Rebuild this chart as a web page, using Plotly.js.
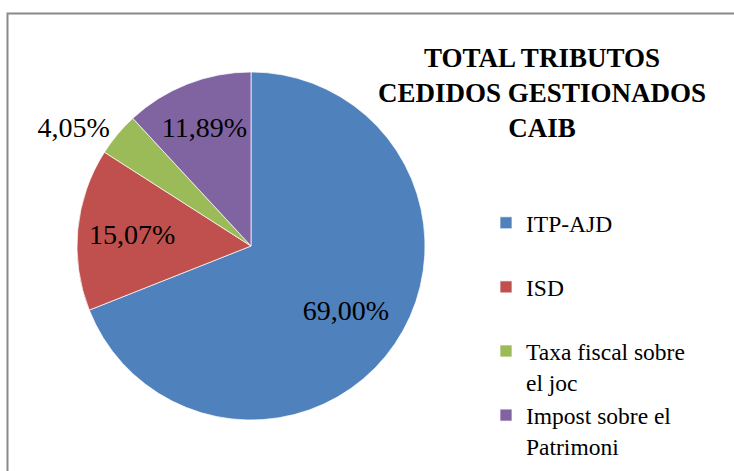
<!DOCTYPE html>
<html>
<head>
<meta charset="utf-8">
<script src="https://cdn.plot.ly/plotly-3.0.1.min.js"></script>
<style>html,body{margin:0;padding:0;background:#fff;}#chart{width:734px;height:471px;}</style>
</head>
<body>
<div id="chart"></div>
<script>
// Data
var categories = ['ITP-AJD', 'ISD', 'Taxa fiscal sobre<br>el joc', 'Impost sobre el<br>Patrimoni'];
var shares = [69.00, 15.07, 4.05, 11.89];
var sliceColors = ['#4F81BD', '#C0504D', '#9BBB59', '#8064A2'];
var labelPositions = ['inside', 'inside', 'outside', 'inside'];
var titleLines = ['TOTAL TRIBUTOS', 'CEDIDOS GESTIONADOS', 'CAIB'];

// pad single-line legend entries to two lines so all entries share the same height
var legendLabels = categories.map(function (c) {
  return c.indexOf('<br>') >= 0 ? c : c + '<br>&nbsp;';
});

var W = 734, H = 471;
var pieDomain = { x: [77 / W, 425 / W], y: [51 / H, 399 / H] };
var labelFont = { family: '"Liberation Serif", serif', size: 28, color: '#000' };
var fmt = '%{value:.2f}%';

// main pie: slices + labels of the smaller slices
var trace = {
  type: 'pie',
  labels: legendLabels,
  values: shares,
  sort: false,
  direction: 'clockwise',
  rotation: 0,
  marker: { colors: sliceColors, line: { color: 'rgba(255,255,255,0.7)', width: 1 } },
  texttemplate: shares.map(function (v, i) { return i === 0 ? '' : fmt; }),
  textposition: labelPositions.map(function (p, i) { return i === 0 ? 'none' : p; }),
  insidetextorientation: 'horizontal',
  textfont: labelFont,
  hoverinfo: 'none',
  domain: pieDomain
};

// transparent ring overlay carrying the label of the large slice further out
var labelRing = {
  type: 'pie',
  labels: legendLabels,
  values: shares,
  sort: false,
  direction: 'clockwise',
  rotation: 0,
  hole: 0.32,
  showlegend: false,
  marker: { colors: shares.map(function () { return 'rgba(0,0,0,0)'; }), line: { width: 0 } },
  texttemplate: shares.map(function (v, i) { return i === 0 ? fmt : ''; }),
  textposition: labelPositions.map(function (p, i) { return i === 0 ? p : 'none'; }),
  insidetextorientation: 'horizontal',
  textfont: labelFont,
  hoverinfo: 'none',
  domain: pieDomain
};

var layout = {
  width: W,
  height: H,
  margin: { l: 0, r: 0, t: 0, b: 0 },
  paper_bgcolor: '#fff',
  separators: ',.',
  showlegend: true,
  title: {
    text: titleLines.map(function (s) { return '<b>' + s + '</b>'; }).join('<br>'),
    x: 542 / W,
    xanchor: 'center',
    y: 1 - 67 / H,
    yanchor: 'top',
    font: { family: '"Liberation Serif", serif', size: 27, color: '#000' }
  },
  legend: {
    x: 486 / W,
    xanchor: 'left',
    y: 1 - 201 / H,
    yanchor: 'top',
    valign: 'top',
    bgcolor: 'rgba(0,0,0,0)',
    font: { family: '"Liberation Serif", serif', size: 23.5, color: '#000' }
  },
  shapes: [{
    type: 'rect', xref: 'paper', yref: 'paper',
    x0: 7.5 / W, x1: 1.1, y0: -0.1, y1: 1 - 13.5 / H,
    line: { color: '#898989', width: 2 }
  }]
};

Plotly.newPlot('chart', [trace, labelRing], layout, { staticPlot: true });
</script>
</body>
</html>
